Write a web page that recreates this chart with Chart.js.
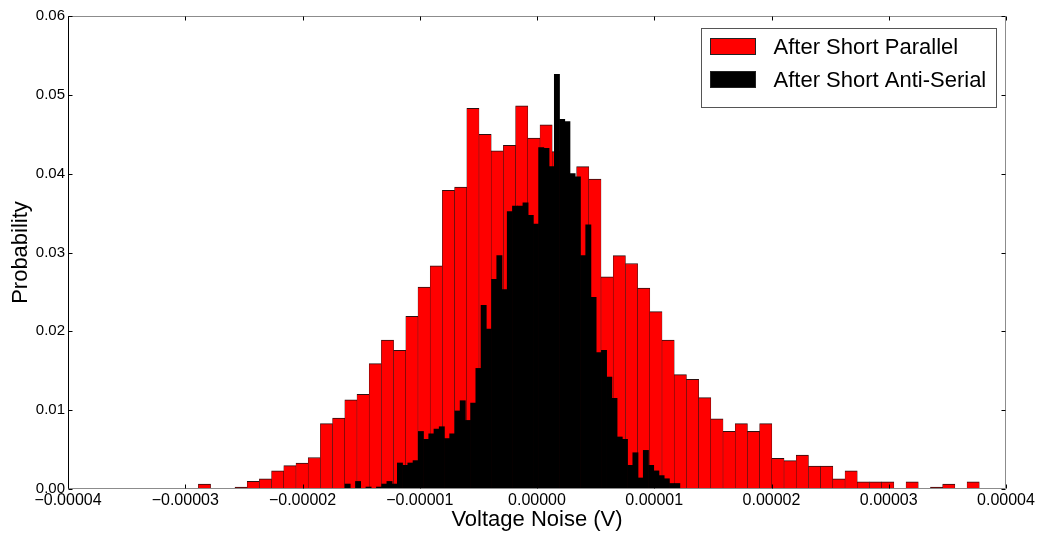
<!DOCTYPE html>
<html>
<head>
<meta charset="utf-8">
<title>Voltage Noise</title>
<script src="https://cdn.jsdelivr.net/npm/chart.js@4.4.1/dist/chart.umd.min.js"></script>
<style>
    html, body { margin: 0; padding: 0; background: #fff; }
    #chartContainer { width: 1049px; height: 535px; position: relative; }
</style>
</head>
<body>
<div id="chartContainer"><canvas id="myChart"></canvas></div>
<script>
// histogram bin range (V), 64 bins each
const parallelEdgeMin = -2.888e-5;
const parallelEdgeMax = 3.772e-5;
const antiSerialEdgeMin = -1.6375e-5;
const antiSerialEdgeMax = 1.2187e-5;

const seriesLabels = ['After Short Parallel', 'After Short Anti-Serial'];

const parallelProb = [
    0.00063, 0, 0, 0.00025, 0.00096, 0.0013, 0.0023, 0.00296,
    0.0033, 0.0040, 0.0083, 0.0090, 0.0113, 0.0120, 0.0159, 0.0189,
    0.0176, 0.0219, 0.0256, 0.0283, 0.0379, 0.0383, 0.0483, 0.0450,
    0.0429, 0.0436, 0.0486, 0.0445, 0.0462, 0.0428, 0.0385, 0.0409,
    0.0393, 0.0269, 0.0296, 0.0286, 0.0255, 0.0225, 0.0189, 0.0145,
    0.0139, 0.0116, 0.0089, 0.0073, 0.0083, 0.0073, 0.0083, 0.0039,
    0.0036, 0.0043, 0.0029, 0.0029, 0.0013, 0.0023, 0.0009, 0.0009,
    0.0009, 0, 0.0009, 0, 0.00025, 0.00063, 0, 0.0009
];

const antiSerialProb = [
    0.00063, 0, 0.00096, 0, 0.00025, 0, 0.00025, 0.00063,
    0.00096, 0.00063, 0.0033, 0.0030, 0.0033, 0.0036, 0.0073, 0.0063,
    0.0070, 0.0076, 0.0079, 0.0064, 0.0070, 0.0099, 0.0112, 0.0087,
    0.0109, 0.0153, 0.0233, 0.0203, 0.0266, 0.0296, 0.0253, 0.0352,
    0.0359, 0.0359, 0.0363, 0.0347, 0.0336, 0.0433, 0.0432, 0.0409,
    0.0526, 0.0469, 0.0466, 0.0400, 0.0396, 0.0296, 0.0335, 0.0243,
    0.0173, 0.0176, 0.0142, 0.0115, 0.0066, 0.0063, 0.0030, 0.0046,
    0.0014, 0.0049, 0.0030, 0.0023, 0.0017, 0.0013, 0.0007, 0.0007
];

const xTicks = [-0.00004, -0.00003, -0.00002, -0.00001, 0, 0.00001, 0.00002, 0.00003, 0.00004];
const yTicks = [0, 0.01, 0.02, 0.03, 0.04, 0.05, 0.06];

const fontFamily = "'Liberation Sans', Arial, sans-serif";

// turn a list of bin heights into {x: bin centre, y} points
function binPoints(edgeMin, edgeMax, values) {
    const width = (edgeMax - edgeMin) / values.length;
    return values.map((v, i) => ({ x: edgeMin + (i + 0.5) * width, y: v }));
}

function formatVolt(v) {
    if (v === 0) return '0.00000';
    return (v < 0 ? '\u2212' : '') + Math.abs(v).toFixed(5);
}

// matplotlib style frame with inward ticks on all four sides
const frameTicks = {
    id: 'frameTicks',
    afterDatasetsDraw(chart) {
        const { ctx, chartArea: a, scales } = chart;
        const L = Math.round(a.left) + 0.5, R = Math.round(a.right) - 0.5;
        const T = Math.round(a.top) + 0.5, B = Math.round(a.bottom) - 0.5;
        ctx.save();
        ctx.lineWidth = 1;
        ctx.strokeStyle = '#8c8c8c';
        ctx.beginPath();
        ctx.moveTo(L, T); ctx.lineTo(R, T); ctx.lineTo(R, B); ctx.lineTo(L, B);
        ctx.stroke();
        ctx.strokeStyle = '#000';
        ctx.beginPath();
        ctx.moveTo(L, T); ctx.lineTo(L, B);
        ctx.stroke();

        ctx.beginPath();
        xTicks.forEach(v => {
            const px = Math.round(scales.x.getPixelForValue(v)) + 0.5;
            ctx.moveTo(px, B); ctx.lineTo(px, B - 4);
            ctx.moveTo(px, T); ctx.lineTo(px, T + 4);
        });
        yTicks.forEach(v => {
            const py = Math.round(scales.y.getPixelForValue(v)) + 0.5;
            ctx.moveTo(L, py); ctx.lineTo(L + 4, py);
            ctx.moveTo(R, py); ctx.lineTo(R - 4, py);
        });
        ctx.stroke();
        ctx.restore();
    }
};

// boxed legend in the upper right corner
const boxLegend = {
    id: 'boxLegend',
    afterDraw(chart) {
        const { ctx, chartArea: a } = chart;
        const left = Math.round(a.right - 305) + 0.5;
        const top = Math.round(a.top + 12) + 0.5;
        const w = 295, h = 79;
        ctx.save();
        ctx.fillStyle = '#fff';
        ctx.fillRect(left, top, w, h);
        ctx.strokeStyle = '#555';
        ctx.lineWidth = 1;
        ctx.strokeRect(left, top, w, h);

        const rows = [top + 18, top + 51];
        const colors = [chart.data.datasets[0].backgroundColor, chart.data.datasets[1].backgroundColor];
        ctx.font = '22px ' + fontFamily;
        ctx.textBaseline = 'middle';
        seriesLabels.forEach((label, i) => {
            ctx.fillStyle = colors[i];
            ctx.fillRect(left + 9, rows[i] - 8, 45, 16);
            ctx.strokeStyle = '#222';
            ctx.strokeRect(left + 9, rows[i] - 8, 45, 16);
            ctx.fillStyle = '#000';
            ctx.fillText(label, left + 72, rows[i] + 1);
        });
        ctx.restore();
    }
};

Chart.defaults.color = '#000';
Chart.defaults.font.family = fontFamily;

const canvas = document.getElementById('myChart');

window.myChartInstance = new Chart(canvas, {
    type: 'bar',
    data: {
        datasets: [{
            label: seriesLabels[0],
            data: binPoints(parallelEdgeMin, parallelEdgeMax, parallelProb),
            xAxisID: 'x',
            backgroundColor: '#ff0000',
            borderColor: '#2b1010',
            borderWidth: { top: 1, left: 0.5, right: 0.5, bottom: 0 },
            grouped: false,
            barPercentage: 1,
            categoryPercentage: 1,
            order: 2
        }, {
            label: seriesLabels[1],
            data: binPoints(antiSerialEdgeMin, antiSerialEdgeMax, antiSerialProb),
            xAxisID: 'x2',
            backgroundColor: '#000000',
            borderColor: '#000000',
            borderWidth: 0,
            grouped: false,
            barPercentage: 1,
            categoryPercentage: 1,
            order: 1
        }]
    },
    options: {
        responsive: true,
        maintainAspectRatio: false,
        animation: false,
        events: [],
        layout: { padding: { top: 16, right: 43, left: 0, bottom: 0 } },
        scales: {
            x: {
                type: 'linear',
                min: -0.00004,
                max: 0.00004,
                offset: false,
                grid: { display: false, drawTicks: false, tickLength: 0 },
                border: { display: false },
                afterBuildTicks: scale => { scale.ticks = xTicks.map(v => ({ value: v })); },
                afterFit: scale => { scale.height = 46; },
                ticks: {
                    maxRotation: 0,
                    autoSkip: false,
                    padding: 2,
                    font: { size: 16 },
                    callback: v => formatVolt(v)
                },
                title: {
                    display: true,
                    text: 'Voltage Noise (V)',
                    font: { size: 22 },
                    padding: { top: 0, bottom: 2 }
                }
            },
            x2: {
                type: 'linear',
                display: false,
                min: -0.00004,
                max: 0.00004,
                offset: false
            },
            y: {
                min: 0,
                max: 0.06,
                grid: { display: false, drawTicks: false, tickLength: 0 },
                border: { display: false },
                afterBuildTicks: scale => { scale.ticks = yTicks.map(v => ({ value: v })); },
                afterFit: scale => { scale.width = 68; },
                ticks: {
                    padding: 3,
                    font: { size: 15 },
                    callback: v => v.toFixed(2)
                },
                title: {
                    display: true,
                    text: 'Probability',
                    font: { size: 22 },
                    padding: { top: 8, bottom: 0 }
                }
            }
        },
        plugins: {
            legend: { display: false },
            tooltip: { enabled: false }
        }
    },
    plugins: [frameTicks, boxLegend]
});
</script>
</body>
</html>
